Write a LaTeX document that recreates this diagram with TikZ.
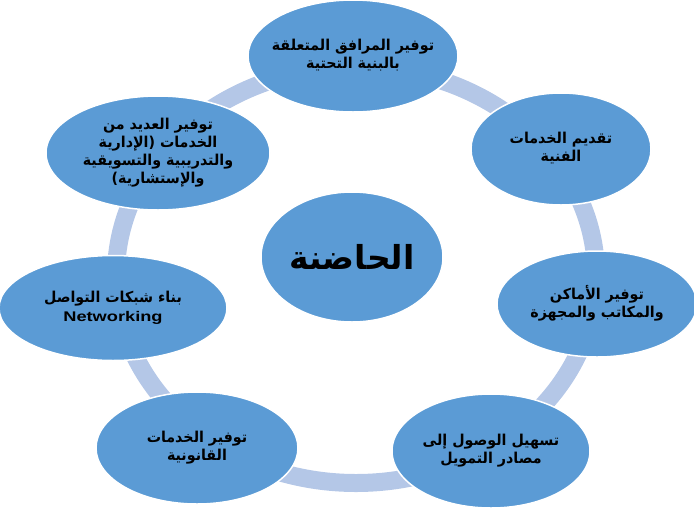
\documentclass[tikz,border=0pt]{standalone}
\usepackage{fontspec}
\usepackage{graphicx}
\setmainfont{Liberation Sans}
\newfontfamily\arabicfont[Script=Arabic]{DejaVu Sans}
\TeXXeTstate=1
\definecolor{bubblefill}{RGB}{91,155,213}
\definecolor{ringcol}{RGB}{180,199,231}
\newcommand{\arl}[1]{{\arabicfont\bfseries\beginR #1\endR}}
\newcommand{\lbl}[1]{\scalebox{0.95}[1]{\begin{tabular}{@{}c@{}}#1\end{tabular}}}
\newcommand{\latinword}[1]{{\fontsize{14}{17}\selectfont\bfseries\scalebox{1.37}[1]{#1}}}
\tikzset{
  bubble/.style={ellipse, fill=bubblefill, draw=white, line width=1.5pt, inner sep=0pt},
  txt/.style={inner sep=0pt, font=\fontsize{15}{18}\selectfont\bfseries, text=black},
  bigtxt/.style={inner sep=0pt, font=\fontsize{33}{38}\selectfont\bfseries, text=black},
}
\usetikzlibrary{shapes.geometric}
\begin{document}
\begin{tikzpicture}[x=1pt,y=-1pt]
\useasboundingbox (0,0) rectangle (694,507);
% ring
\coordinate (ringc) at (356,275);
\draw[ringcol, line width=18pt] (ringc) ellipse [x radius=240pt, y radius=208pt];
% bubbles
\node[bubble, minimum width=210pt, minimum height=112pt] (n1) at (353,56) {};
\node[bubble, minimum width=180pt, minimum height=112pt] (n2) at (561,149) {};
\node[bubble, minimum width=200pt, minimum height=106pt] (n3) at (597,304) {};
\node[bubble, minimum width=198pt, minimum height=114pt] (n4) at (491,451) {};
\node[bubble, minimum width=202pt, minimum height=112pt] (n5) at (197,448) {};
\node[bubble, minimum width=228pt, minimum height=105pt] (n6) at (113,308) {};
\node[bubble, minimum width=224pt, minimum height=114pt] (n7) at (158,153) {};
\node[bubble, minimum width=182pt, minimum height=130pt] (c) at (352,257) {};
% labels
\node[txt] (t1) at (n1) {\lbl{\arl{توفير المرافق المتعلقة}\\\arl{بالبنية التحتية}}};
\node[txt] (t2) at (n2) {\lbl{\arl{تقديم الخدمات}\\\arl{الفنية}}};
\node[txt] (t3) at (n3) {\lbl{\arl{توفير الأماكن}\\\arl{والمكاتب والمجهزة}}};
\node[txt] (t4) at (n4) {\lbl{\arl{تسهيل الوصول إلى}\\\arl{مصادر التمويل}}};
\node[txt] (t5) at (n5) {\lbl{\arl{توفير الخدمات}\\\arl{القانونية}}};
\node[txt] (t6) at (n6) {\lbl{\arl{بناء شبكات التواصل}\\[1pt]\latinword{Networking}}};
\node[txt] (t7) at (n7) {\lbl{\arl{توفير العديد من}\\\arl{الخدمات (الإدارية}\\\arl{والتدريبية والتسويقية}\\\arl{والإستشارية)}}};
\node[bigtxt] (tc) at (c) {\arl{الحاضنة}};
\end{tikzpicture}
\end{document}
